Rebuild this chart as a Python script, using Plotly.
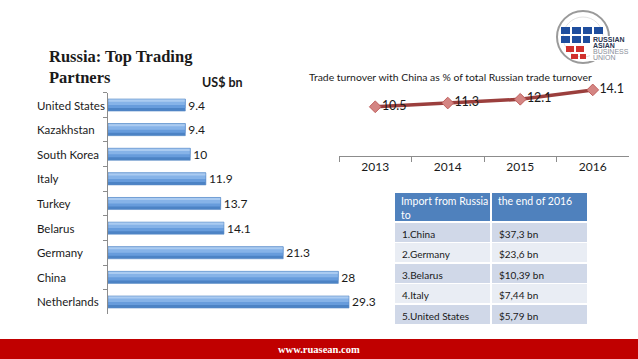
import plotly.graph_objects as go

W, H = 638, 359

# ---------------- data ----------------
partners = ["United States", "Kazakhstan", "South Korea", "Italy", "Turkey",
            "Belarus", "Germany", "China", "Netherlands"]
trade_bn = [9.4, 9.4, 10, 11.9, 13.7, 14.1, 21.3, 28, 29.3]
trade_labels = ["9.4", "9.4", "10", "11.9", "13.7", "14.1", "21.3", "28", "29.3"]

years = ["2013", "2014", "2015", "2016"]
china_share = [10.5, 11.3, 12.1, 14.1]

table_header = ["Import from Russia<br>to", "the end of 2016"]
import_countries = ["1.China", "2.Germany", "3.Belarus", "4.Italy", "5.United States"]
import_values = ["$37,3 bn", "$23,6 bn", "$10,39 bn", "$7,44 bn", "$5,79 bn"]


def px_x(p):
    return p / W


def px_y(p):
    return 1 - p / H


fig = go.Figure()

# ---------------- bar chart (gradient imitated by overlapping bands) ----------------
band_colors = ["#4C83C5", "#679CDC", "#86B3E8", "#AACBF1"]
bar_w = 0.49
for i, col in enumerate(band_colors):
    fig.add_trace(go.Bar(
        y=partners, x=trade_bn, orientation="h",
        marker=dict(color=col, line=dict(width=0)),
        width=bar_w * (4 - i) / 4 if i < 3 else bar_w * 0.22, offset=-bar_w / 2,
        xaxis="x", yaxis="y", showlegend=False, hoverinfo="skip",
    ))
# outline trace carrying the value labels
fig.add_trace(go.Bar(
    y=partners, x=trade_bn, orientation="h",
    marker=dict(color="rgba(0,0,0,0)", line=dict(color="#5B8BC6", width=0.6)),
    width=bar_w, offset=-bar_w / 2,
    text=trade_labels, textposition="outside", constraintext="none",
    textfont=dict(family="Lato", size=12, color="#1a1a1a"),
    cliponaxis=False,
    xaxis="x", yaxis="y", showlegend=False, hoverinfo="skip",
))

# ---------------- line chart ----------------
fig.add_trace(go.Scatter(
    x=years, y=china_share, mode="lines+markers+text",
    line=dict(color="#9B3F3D", width=3.5),
    marker=dict(symbol="diamond", size=9, color="#D48583",
                line=dict(color="#C0605E", width=1)),
    text=[str(v) for v in china_share], textposition="middle right",
    textfont=dict(family="Lato", size=12.5, color="#1a1a1a"),
    cliponaxis=False,
    xaxis="x2", yaxis="y2", showlegend=False, hoverinfo="skip",
))

# ---------------- table (body rows; header drawn below with fixed height) ----------------
row_fill = ["#D0D8E8", "#E9EDF4", "#D0D8E8", "#E9EDF4", "#D0D8E8"]
fig.add_trace(go.Table(
    domain=dict(x=[px_x(394), px_x(588)], y=[px_y(326), px_y(192)]),
    columnwidth=[1, 1],
    header=dict(values=["", ""], fill_color="#4F81BD",
                line=dict(color="white", width=1.5), align="left",
                font=dict(family="Lato", size=10, color="white"), height=30),
    cells=dict(values=[import_countries, import_values],
               fill_color=[row_fill, row_fill],
               line=dict(color="white", width=1.5), align="left",
               font=dict(family="Lato", size=10, color="#1a1a1a"), height=20.5),
))

annotations = []
# table header texts
for hx, ht in zip([399, 496], table_header):
    annotations.append(dict(
        x=px_x(hx), y=px_y(192.5), xref="paper", yref="paper", xanchor="left", yanchor="top",
        text=ht, showarrow=False, align="left",
        font=dict(family="Lato", size=10.5, color="white")))

# left-aligned category labels
for p in partners:
    annotations.append(dict(
        x=px_x(35), xref="paper", y=p, yref="y", text=p, showarrow=False,
        xanchor="left", yanchor="middle",
        font=dict(family="Lato", size=11.5, color="#1a1a1a")))

# titles
annotations += [
    dict(x=px_x(47), y=px_y(45), xref="paper", yref="paper", xanchor="left", yanchor="top",
         text="<b>Russia: Top Trading<br>Partners</b>", showarrow=False, align="left",
         font=dict(family="Liberation Serif", size=16.5, color="#1a1a1a")),
    dict(x=px_x(200), y=px_y(82), xref="paper", yref="paper", xanchor="left", yanchor="middle",
         text="<b>US$ bn</b>", showarrow=False,
         font=dict(family="Lato", size=12.5, color="#1a1a1a")),
    dict(x=px_x(450), y=px_y(77), xref="paper", yref="paper", xanchor="center", yanchor="middle",
         text="Trade turnover with China as % of total Russian trade turnover", showarrow=False,
         font=dict(family="Lato", size=10.4, color="#1a1a1a")),
    dict(x=0.5, y=px_y(349), xref="paper", yref="paper", xanchor="center", yanchor="middle",
         text="<b>www.ruasean.com</b>", showarrow=False,
         font=dict(family="Liberation Serif", size=10.5, color="white")),
]

# logo text
logo_lines = [("RUSSIAN", 40, "#2B3550", True), ("ASIAN", 45.5, "#2B3550", True),
              ("BUSINESS", 51.5, "#8A8F9A", False), ("UNION", 57, "#8A8F9A", False)]
for t, yy, c, b in logo_lines:
    annotations.append(dict(
        x=px_x(591), y=px_y(yy), xref="paper", yref="paper", xanchor="left", yanchor="middle",
        text=f"<b>{t}</b>" if b else t, showarrow=False,
        font=dict(family="Liberation Sans", size=7, color=c)))

shapes = [
    # footer band
    dict(type="rect", xref="paper", yref="paper", x0=0, x1=1, y0=0, y1=px_y(339),
         fillcolor="#C00000", line=dict(width=0), layer="below"),
    # logo ring
    dict(type="circle", xref="paper", yref="paper",
         x0=px_x(557), x1=px_x(609), y0=px_y(63), y1=px_y(11),
         line=dict(color="#9A9A9A", width=2)),
    dict(type="circle", xref="paper", yref="paper",
         x0=px_x(563), x1=px_x(603), y0=px_y(57), y1=px_y(17),
         line=dict(color="#DADADA", width=0.8)),
]
# logo blocks
blue = "#1F4E9E"
red = "#D0312D"
for (x0, x1, y0, y1, col) in [
    (561, 570, 27, 34, blue), (572, 581, 27, 34, blue), (583, 592, 27, 34, blue), (594, 603, 27, 34, blue),
    (561, 570, 36, 43, blue), (572, 581, 36, 43, blue), (583, 590, 36, 43, blue),
    (566, 574, 46, 52, red), (576, 584, 46, 52, red),
    (571, 578, 54, 59, red), (580, 586, 54, 59, red),
]:
    shapes.append(dict(type="rect", xref="paper", yref="paper",
                       x0=px_x(x0), x1=px_x(x1), y0=px_y(y1), y1=px_y(y0),
                       fillcolor=col, line=dict(width=0)))
shapes.append(dict(type="rect", xref="paper", yref="paper",
                   x0=px_x(590), x1=px_x(625), y0=px_y(61), y1=px_y(36),
                   fillcolor="white", line=dict(width=0)))

fig.update_layout(
    width=W, height=H, margin=dict(l=0, r=0, t=0, b=0),
    paper_bgcolor="white", plot_bgcolor="rgba(0,0,0,0)",
    barmode="overlay", showlegend=False,
    xaxis=dict(domain=[px_x(108), px_x(400)], range=[0, 35.5], visible=False),
    yaxis=dict(domain=[px_y(314.3), px_y(92.7)], range=[8.5, -0.5], type="category",
               categoryorder="array", categoryarray=partners,
               showticklabels=False, showline=True, linecolor="#8C8C8C", linewidth=1,
               ticks="outside", tickson="boundaries", ticklen=4, tickcolor="#8C8C8C",
               showgrid=False, zeroline=False, anchor="x"),
    xaxis2=dict(domain=[px_x(339), px_x(629)], anchor="y2", type="category",
                range=[-0.5, 3.5],
                showline=True, linecolor="#8C8C8C", linewidth=1,
                ticks="outside", tickson="boundaries", ticklen=5, tickcolor="#8C8C8C",
                showgrid=False, zeroline=False,
                tickfont=dict(family="Lato", size=12, color="#1a1a1a")),
    yaxis2=dict(domain=[px_y(156), px_y(81)], anchor="x2", range=[0, 16], visible=False),
    annotations=annotations, shapes=shapes,
)

fig.write_html("out.html", config={"displayModeBar": False},
               post_script="document.body.style.margin='0';document.body.style.overflow='hidden';")
